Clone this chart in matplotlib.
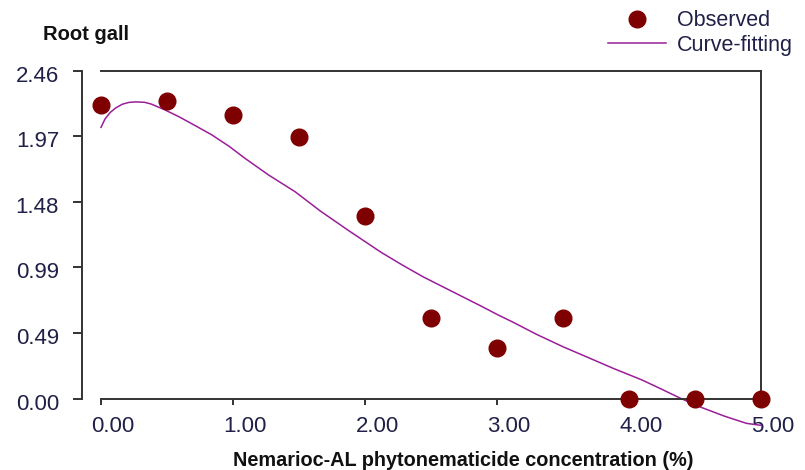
import numpy as np
import matplotlib.pyplot as plt
from matplotlib.transforms import ScaledTranslation

plt.rcParams['font.family'] = ['Liberation Sans', 'DejaVu Sans']

# observed root gall values
obs_x = [0.0, 0.5, 1.0, 1.5, 2.0, 2.5, 3.0, 3.5, 4.0, 4.5, 5.0]
obs_y = [2.205, 2.235, 2.13, 1.964, 1.371, 0.606, 0.381, 0.606, 0.0, 0.0, 0.0]

# fitted curve
fit_x = [0.0, 0.03, 0.07, 0.11, 0.16, 0.21, 0.26, 0.33, 0.38, 0.48, 0.59,
         0.71, 0.84, 0.97, 1.09, 1.27, 1.47, 1.66, 1.87, 2.12, 2.28, 2.44,
         2.6, 2.75, 2.88, 3.01, 3.12, 3.3, 3.5, 3.7, 3.88, 4.1, 4.25, 4.39,
         4.55, 4.72, 4.89, 5.0]
fit_y = [2.037, 2.099, 2.149, 2.182, 2.21, 2.224, 2.228, 2.225, 2.212, 2.17,
         2.117, 2.052, 1.98, 1.895, 1.805, 1.679, 1.554, 1.41, 1.266, 1.10,
         1.005, 0.915, 0.835, 0.76, 0.695, 0.628, 0.575, 0.483, 0.39, 0.305,
         0.228, 0.14, 0.07, 0.003, -0.066, -0.13, -0.185, -0.2]

xticks = [0, 1, 2, 3, 4, 5]
xtick_labels = ['0.00', '1.00', '2.00', '3.00', '4.00', '5.00']
yticks = [0.0, 0.49, 0.99, 1.48, 1.97, 2.46]
ytick_labels = ['0.00', '0.49', '0.99', '1.48', '1.97', '2.46']

fig = plt.figure(figsize=(8.05, 4.70), dpi=100)
ax = fig.add_axes([82/805, 1-432/470, (761-82)/805, (432-71)/470])

ax.plot(fit_x, fit_y, color='#9a1e9a', lw=1.1, clip_on=False, label='Curve-fitting', zorder=2)
ax.plot(obs_x, obs_y, 'o', color='#7f0000', ms=12, mec='#7f0000', clip_on=False,
        label='Observed', zorder=3)

ax.set_xlim(-0.144, 5.0)
ax.set_ylim(-0.25, 2.46)

spine_c = '#333333'
for s in ax.spines.values():
    s.set_color(spine_c)
    s.set_linewidth(1.4)
ax.spines['left'].set_bounds(0, 2.46)
ax.spines['bottom'].set_position(('data', 0))
ax.spines['bottom'].set_bounds(0, 5)
ax.spines['top'].set_bounds(0, 5)
ax.spines['right'].set_bounds(0, 2.46)

ax.set_xticks(xticks)
ax.set_xticklabels(xtick_labels)
ax.set_yticks(yticks)
ax.set_yticklabels(ytick_labels)
ax.tick_params(axis='x', direction='out', length=4.5, width=1.4, color=spine_c,
               labelsize=16, labelcolor='#202048', pad=8)
ax.tick_params(axis='y', direction='out', length=6.5, width=1.4, color=spine_c,
               labelsize=16, labelcolor='#202048', pad=10)

shift = ScaledTranslation(12/100, 0, fig.dpi_scale_trans)
for lab in ax.get_xticklabels():
    lab.set_transform(lab.get_transform() + shift)
shift_y = ScaledTranslation(0, -3/100, fig.dpi_scale_trans)
for lab in ax.get_yticklabels():
    lab.set_transform(lab.get_transform() + shift_y)

fig.text(463/805, 1-461/470, 'Nemarioc-AL phytonematicide concentration (%)',
         ha='center', va='center', fontsize=14.3, fontweight='bold', color='#111111')
fig.text(43/805, 1-34/470, 'Root gall', ha='left', va='center',
         fontsize=14.5, fontweight='bold', color='#111111')

leg = ax.legend(handles=ax.get_lines()[::-1], frameon=False, fontsize=15.5,
                loc='upper right', bbox_to_anchor=(808/805, 1.01),
                bbox_transform=fig.transFigure, handlelength=2.7,
                handletextpad=0.5, labelspacing=0.15, borderpad=0.2)
for t in leg.get_texts():
    t.set_color('#202048')

fig.savefig('out.png', dpi=100)
